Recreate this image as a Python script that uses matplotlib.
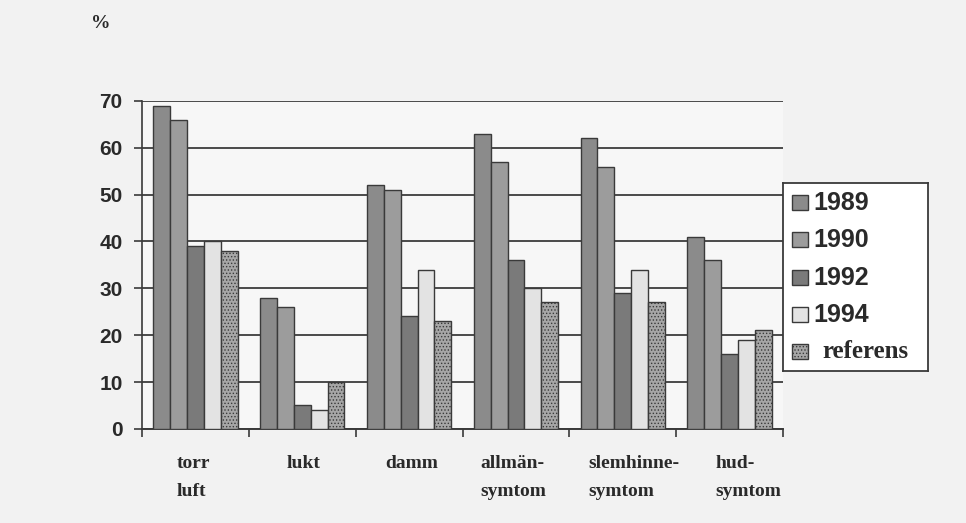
import numpy as np
import matplotlib
matplotlib.use("Agg")
import matplotlib.pyplot as plt
from matplotlib.patches import Rectangle

categories = ["torr\nluft", "lukt", "damm", "allmän-\nsymtom", "slemhinne-\nsymtom", "hud-\nsymtom"]
series_names = ["1989", "1990", "1992", "1994", "referens"]
v1989 = [69, 28, 52, 63, 62, 41]
v1990 = [66, 26, 51, 57, 56, 36]
v1992 = [39, 5, 24, 36, 29, 16]
v1994 = [40, 4, 34, 30, 34, 19]
vref = [38, 10, 23, 27, 27, 21]
yticks = [0, 10, 20, 30, 40, 50, 60, 70]

series = [v1989, v1990, v1992, v1994, vref]
colors = ["#8b8b8b", "#9c9c9c", "#7a7a7a", "#e3e3e3", "#a6a6a6"]
hatches = [None, None, None, None, "....."]

plt.rcParams["hatch.color"] = "#8a8a8a"
plt.rcParams["hatch.linewidth"] = 0.6

fig = plt.figure(figsize=(9.66, 5.23), dpi=100, facecolor="#f2f2f2")
ax = fig.add_axes([0.147, 0.180, 0.6636, 0.627])
ax.set_facecolor("#f7f7f7")

n = len(series)
bw = 0.158
x = np.arange(len(categories))
edge = "#3a3a3a"
for i, (vals, c, h) in enumerate(zip(series, colors, hatches)):
    offs = (i - (n - 1) / 2) * bw
    ax.bar(x + offs, vals, width=bw, color=c, edgecolor=edge,
           linewidth=1.0, hatch=h, zorder=3, label=series_names[i])

ax.set_xlim(-0.5, len(categories) - 0.5)
ax.set_ylim(0, 70)
ax.set_yticks(yticks)
ax.set_yticklabels([str(t) for t in yticks], fontsize=15, fontweight="bold",
                   family="Liberation Sans", color="#2a2a2a")
ax.yaxis.grid(True, color="#4a4a4a", linewidth=1.4, zorder=1)
ax.set_axisbelow(True)
for s in ["top", "right"]:
    ax.spines[s].set_visible(False)
ax.spines["left"].set_color("#3a3a3a")
ax.spines["left"].set_linewidth(1.2)
ax.spines["bottom"].set_color("#3a3a3a")
ax.spines["bottom"].set_linewidth(1.4)
ax.tick_params(axis="y", direction="out", length=6, width=1.2, color="#3a3a3a", pad=8)

# boundary ticks between categories on the x axis
ax.set_xticks(np.arange(-0.5, len(categories), 1.0))
ax.set_xticklabels([])
ax.tick_params(axis="x", direction="out", length=6, width=1.2, color="#3a3a3a")

# category labels below the axis
label_dx = [-0.18, -0.15, -0.225, -0.33, -0.32, -0.13]
for xi, lab, dx in zip(x, categories, label_dx):
    ax.text(xi + dx, -5.5, lab, ha="left", va="top", fontsize=14,
            fontweight="bold", family="Liberation Serif", color="#2a2a2a",
            linespacing=1.85, transform=ax.transData, clip_on=False)

fig.text(0.094, 0.955, "%", fontsize=14, fontweight="bold",
         family="Liberation Serif", color="#2a2a2a", ha="left", va="center")

# legend box to the right of the plot
leg_ax = fig.add_axes([0.8106, 0.291, 0.150, 0.359])
leg_ax.set_xlim(0, 1)
leg_ax.set_ylim(0, 1)
leg_ax.set_xticks([])
leg_ax.set_yticks([])
leg_ax.set_facecolor("white")
for s in leg_ax.spines.values():
    s.set_color("#3a3a3a")
    s.set_linewidth(1.3)
ys = [0.894, 0.697, 0.495, 0.298, 0.101]
for name, c, h, yy in zip(series_names, colors, hatches, ys):
    leg_ax.add_patch(Rectangle((0.06, yy - 0.04), 0.11, 0.08, facecolor=c,
                               edgecolor=edge, linewidth=1.0, hatch=h))
    if name == "referens":
        leg_ax.text(0.27, yy, name, fontsize=18, fontweight="bold",
                    family="Liberation Serif", color="#2a2a2a", va="center", ha="left")
    else:
        leg_ax.text(0.21, yy, name, fontsize=18, fontweight="bold",
                    family="Liberation Sans", color="#2a2a2a", va="center", ha="left")

fig.savefig("out.png", dpi=100, facecolor=fig.get_facecolor())
